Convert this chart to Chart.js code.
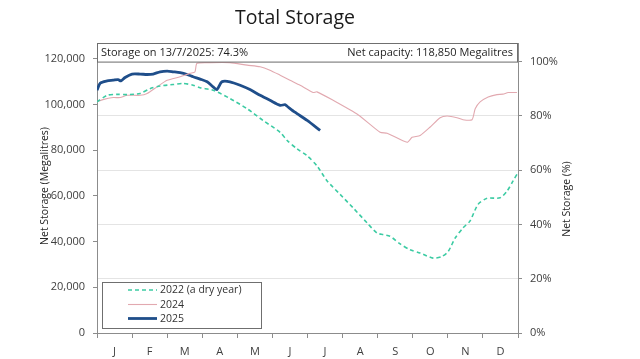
<!DOCTYPE html>
<html>
<head>
<meta charset="utf-8">
<script src="https://cdn.jsdelivr.net/npm/chart.js@4/dist/chart.umd.min.js"></script>
<style>
  html, body { margin: 0; padding: 0; background: #ffffff; }
  #wrap { width: 640px; height: 359px; position: relative; }
</style>
</head>
<body>
<div id="wrap"><canvas id="c" width="640" height="359"></canvas></div>
<script>
// ---- Data ----
const chartTitle = 'Total Storage';
const monthLabels = ['J','F','M','A','M','J','J','A','S','O','N','D'];
const leftTicks = [0, 20000, 40000, 60000, 80000, 100000, 120000];
const rightTicks = [0, 20, 40, 60, 80, 100];
const netCapacity = 118850;
const headerLeft = 'Storage on 13/7/2025: 74.3%';
const headerRight = 'Net capacity: 118,850 Megalitres';

// x = month position (0 = 1 Jan, 12 = 31 Dec), y = megalitres
const m2022 = [0,0.29,0.57,0.86,1.23,1.51,1.80,2.17,2.45,2.74,2.94,3.31,3.79,4.28,4.73,5.22,5.42,5.70,5.99,6.27,6.56,6.93,7.30,7.70,7.98,8.15,8.35,8.64,8.92,9.21,9.58,9.83,10.01,10.21,10.43,10.63,10.86,11.12,11.49,11.69,11.86,12.0];
const v2022 = [101200,104100,104500,104400,104900,107000,108200,108800,109300,108500,107400,106300,102700,98200,93100,87900,84300,80700,77600,73200,66600,60700,54800,48200,43800,43100,42400,39000,36500,35000,32800,33500,35700,41600,46000,49000,56300,59000,59200,62200,66600,70300];

const m2024 = [0,0.17,0.46,0.66,0.86,1.23,1.43,1.71,2.00,2.37,2.65,2.79,2.85,3.22,3.79,4.28,4.65,4.93,5.22,5.50,5.79,6.16,6.27,6.73,7.44,8.07,8.27,8.84,8.98,9.21,9.49,9.78,9.98,10.26,10.43,10.69,10.78,10.92,11.15,11.40,11.57,11.72,11.97];
const v2024 = [101200,102200,103100,103100,104100,104100,104900,107800,110700,112200,113700,114300,118100,118400,118400,117300,116600,115100,112900,110700,108500,105300,105600,101900,95600,87900,87500,83500,85700,86500,90100,94300,95000,94300,93400,93400,98200,101200,103400,104400,104600,105300,105300];

const m2025 = [0,0.09,0.29,0.46,0.60,0.68,0.80,1.00,1.23,1.43,1.60,1.80,2.00,2.17,2.37,2.57,2.74,2.94,3.14,3.31,3.42,3.56,3.79,4.08,4.36,4.65,4.93,5.22,5.36,5.42,5.64,5.99,6.36];
const v2025 = [106300,109400,110400,110700,111000,110400,111900,113400,113400,113200,113400,114400,114700,114400,114000,113200,112200,111200,110000,107800,106600,110000,110000,108500,106600,104100,101900,99700,100000,99300,96700,93100,88700];

const pts = (ms, vs) => ms.map((m, i) => ({ x: m, y: vs[i] }));

// ---- Layout / style ----
const FONT = '"Open Sans", "DejaVu Sans", sans-serif';
const AXIS = '#8c8c8c';
const Y_MAX = 127000;
const PLOT_LEFT = 97, PLOT_RIGHT = 518, PLOT_TOP = 43, X_AXIS_H = 26;

const overlay = {
  id: 'overlay',
  afterDraw(chart) {
    const ctx = chart.ctx;
    const a = chart.chartArea;
    ctx.save();
    // chart title
    ctx.fillStyle = '#1a1a1a';
    ctx.font = '19.5px ' + FONT;
    ctx.textAlign = 'center';
    ctx.textBaseline = 'middle';
    ctx.fillText(chartTitle, 295, 18);

    // header box
    const hb = chart.scales.y.getPixelForValue(netCapacity);
    ctx.fillStyle = '#ffffff';
    ctx.fillRect(a.left, a.top, a.right - a.left, hb - a.top);
    ctx.strokeStyle = '#6f6f6f';
    ctx.lineWidth = 1;
    ctx.strokeRect(a.left + 0.5, a.top + 0.5, a.right - a.left - 1, hb - a.top);
    ctx.fillStyle = '#1f1f1f';
    ctx.font = '11px ' + FONT;
    ctx.textBaseline = 'middle';
    ctx.textAlign = 'left';
    ctx.fillText(headerLeft, a.left + 4, (a.top + hb) / 2 + 0.5);
    ctx.textAlign = 'right';
    ctx.fillText(headerRight, a.right - 5, (a.top + hb) / 2 + 0.5);

    // axis titles
    ctx.fillStyle = '#262626';
    ctx.font = '10.5px ' + FONT;
    ctx.textAlign = 'center';
    ctx.save();
    ctx.translate(45, 186);
    ctx.rotate(-Math.PI / 2);
    ctx.fillText('Net Storage (Megalitres)', 0, 0);
    ctx.restore();
    ctx.save();
    ctx.translate(567, 199);
    ctx.rotate(-Math.PI / 2);
    ctx.fillText('Net Storage (%)', 0, 0);
    ctx.restore();

    // legend box
    const lx = 102, ly = 282, lw = 159, lh = 46;
    ctx.fillStyle = '#ffffff';
    ctx.fillRect(lx, ly, lw, lh);
    ctx.strokeStyle = '#6f6f6f';
    ctx.lineWidth = 1;
    ctx.strokeRect(lx + 0.5, ly + 0.5, lw, lh);
    const rows = [290, 304.5, 318.5];
    chart.data.datasets.forEach((ds, i) => {
      const y = rows[i];
      ctx.save();
      ctx.strokeStyle = ds.borderColor;
      ctx.lineWidth = ds.borderWidth;
      ctx.setLineDash(ds.borderDash || []);
      ctx.beginPath();
      ctx.moveTo(128, y);
      ctx.lineTo(157, y);
      ctx.stroke();
      ctx.restore();
      ctx.fillStyle = '#333333';
      ctx.font = '10.5px ' + FONT;
      ctx.textAlign = 'left';
      ctx.textBaseline = 'middle';
      ctx.fillText(ds.label, 160, y + 0.5);
    });
    ctx.restore();
  }
};

new Chart(document.getElementById('c'), {
  type: 'line',
  data: {
    datasets: [
      { label: '2022 (a dry year)', data: pts(m2022, v2022), borderColor: '#3ccba3', borderWidth: 1.6, borderDash: [4, 3], pointRadius: 0, tension: 0.25, yAxisID: 'y' },
      { label: '2024', data: pts(m2024, v2024), borderColor: '#e2a9b0', borderWidth: 1.1, pointRadius: 0, tension: 0.2, yAxisID: 'y' },
      { label: '2025', data: pts(m2025, v2025), borderColor: '#1f4e8a', borderWidth: 2.8, pointRadius: 0, tension: 0.25, yAxisID: 'y' }
    ]
  },
  options: {
    responsive: false,
    animation: false,
    devicePixelRatio: 1,
    layout: { padding: { top: PLOT_TOP, left: 0, right: 0, bottom: 0 } },
    plugins: {
      legend: { display: false },
      tooltip: { enabled: false },
      title: { display: false }
    },
    scales: {
      x: {
        type: 'linear',
        min: 0, max: 12,
        afterBuildTicks: (s) => {
          const t = [];
          for (let i = 0; i <= 24; i++) t.push({ value: i / 2 });
          s.ticks = t;
        },
        afterFit: (s) => { s.height = X_AXIS_H; },
        ticks: {
          autoSkip: false, maxRotation: 0, padding: 7,
          color: '#404040',
          font: { family: FONT, size: 11 },
          callback: (v) => (Math.abs(v % 1 - 0.5) < 1e-6) ? monthLabels[Math.floor(v)] : ''
        },
        grid: {
          drawOnChartArea: false, drawTicks: true, tickLength: 5,
          tickColor: (c) => (c.tick && Math.abs(c.tick.value % 1) < 1e-6) ? AXIS : 'rgba(0,0,0,0)'
        },
        border: { display: true, color: AXIS, width: 1 }
      },
      y: {
        position: 'left',
        min: 0, max: Y_MAX,
        afterBuildTicks: (s) => { s.ticks = leftTicks.map(v => ({ value: v })); },
        afterFit: (s) => { s.width = PLOT_LEFT; },
        ticks: {
          padding: 8, color: '#404040',
          font: { family: FONT, size: 11 },
          callback: (v) => v.toLocaleString('en-US')
        },
        grid: { drawOnChartArea: false, drawTicks: true, tickLength: 4, tickColor: AXIS },
        border: { display: true, color: AXIS, width: 1 }
      },
      y2: {
        position: 'right',
        min: 0, max: Y_MAX / netCapacity * 100,
        afterBuildTicks: (s) => { s.ticks = rightTicks.map(v => ({ value: v })); },
        afterFit: (s) => { s.width = 640 - PLOT_RIGHT; },
        ticks: {
          padding: 8, color: '#404040',
          font: { family: FONT, size: 11 },
          callback: (v) => v + '%'
        },
        grid: { drawOnChartArea: true, color: '#e4e4e4', lineWidth: 1, drawTicks: true, tickLength: 4, tickColor: AXIS },
        border: { display: true, color: AXIS, width: 1 }
      }
    }
  },
  plugins: [overlay]
});
</script>
</body>
</html>
